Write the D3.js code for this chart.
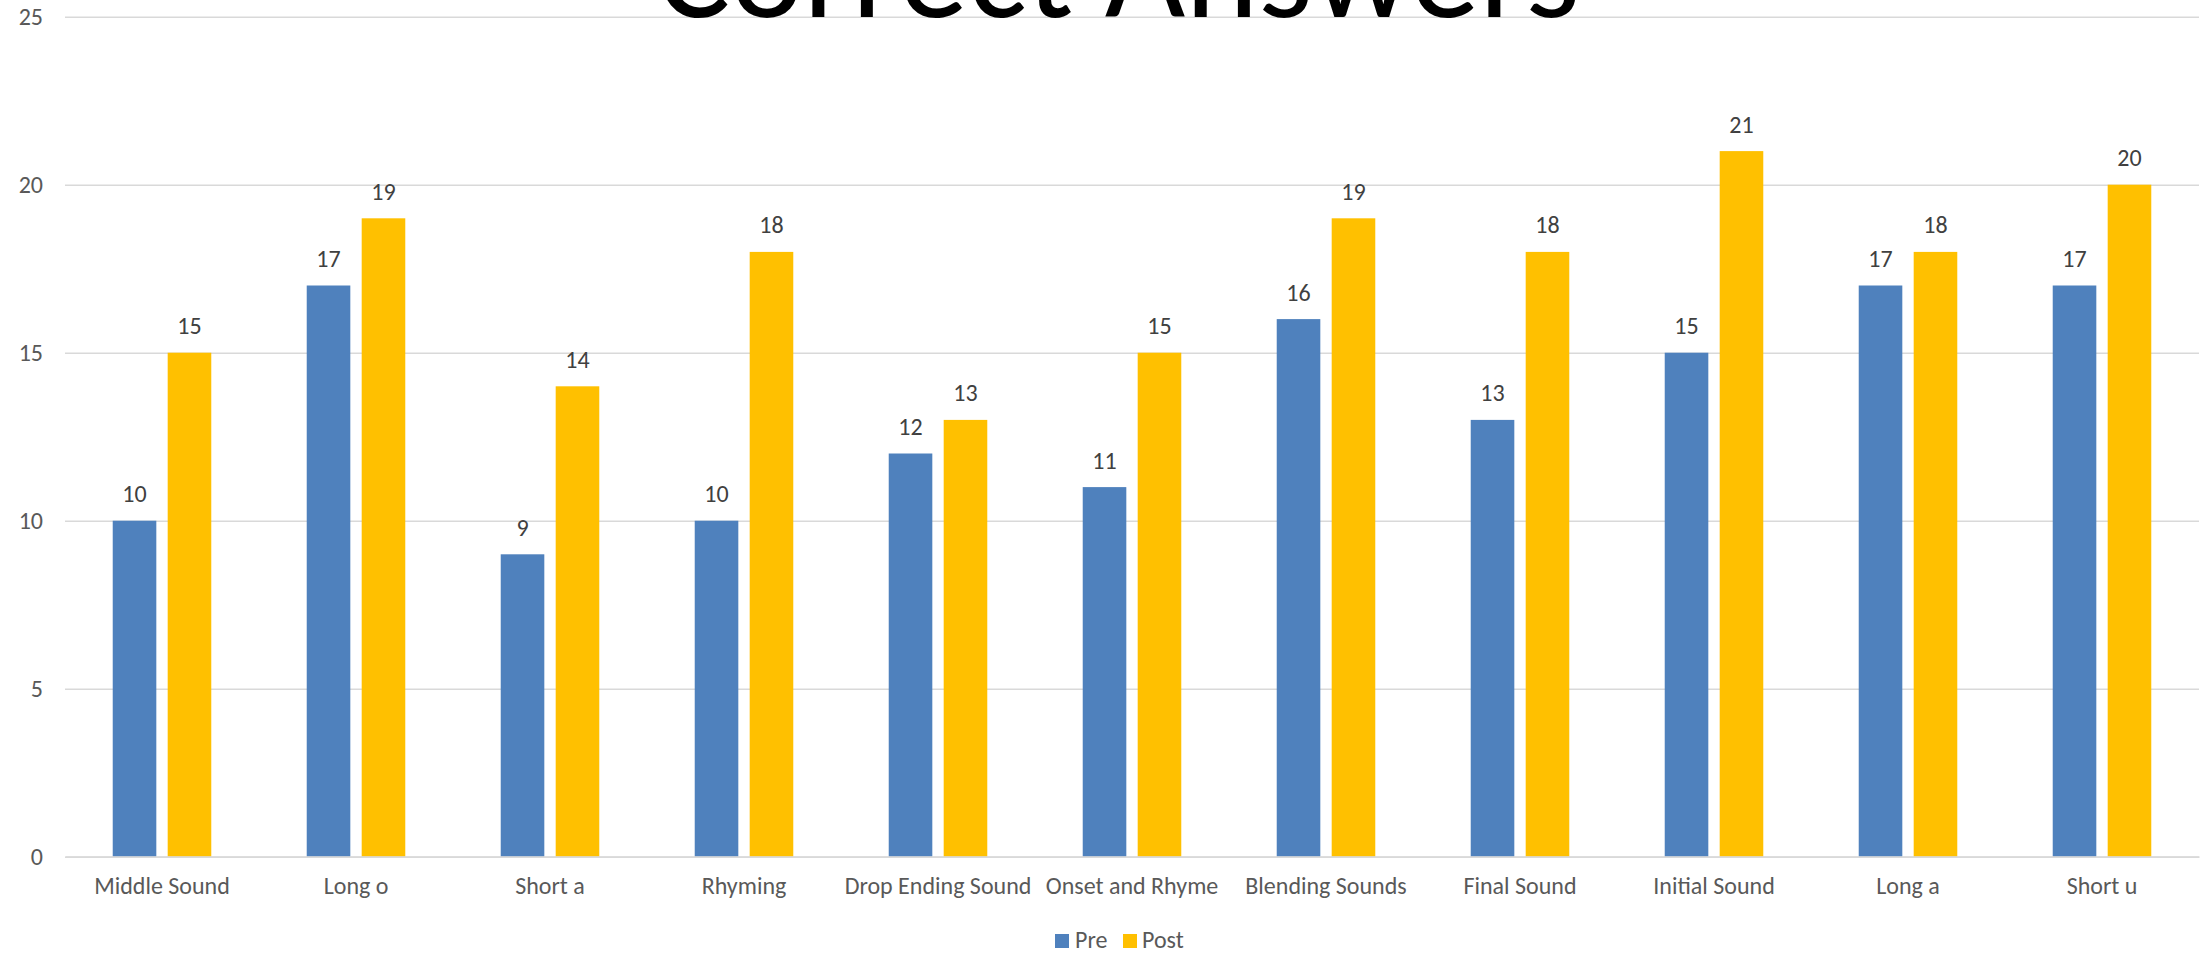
<!DOCTYPE html>
<html>
<head>
<meta charset="utf-8">
<script src="https://cdn.jsdelivr.net/npm/d3@7"></script>
<style>
  html, body { margin: 0; padding: 0; background: #fff; overflow: hidden; }
  svg { display: block; }
  text { font-family: Carlito, Calibri, Lato, "Open Sans", sans-serif; }
</style>
</head>
<body>
<svg id="chart" width="2203" height="953"></svg>
<script>
// Correct answers per skill, before and after
const categories = ["Middle Sound", "Long o", "Short a", "Rhyming", "Drop Ending Sound",
  "Onset and Rhyme", "Blending Sounds", "Final Sound", "Initial Sound", "Long a", "Short u"];
const seriesNames = ["Pre", "Post"];
const preValues  = [10, 17, 9, 10, 12, 11, 16, 13, 15, 17, 17];
const postValues = [15, 19, 14, 18, 13, 15, 19, 18, 21, 18, 20];
const yTicks = [0, 5, 10, 15, 20, 25];
const titleText = "Correct Answers";

const colors = { Pre: "#4F81BD", Post: "#FFC000" };
const labelFont = "24px";

const svg = d3.select("#chart");
const plot = { left: 65, right: 2199, top: 16.7, bottom: 856.7 };

const y = d3.scaleLinear().domain([0, 25]).range([plot.bottom, plot.top]);
const x0 = d3.scaleBand().domain(categories).range([plot.left, plot.right]).padding(0);
const bw = x0.bandwidth();
const x1 = d3.scaleBand().domain(seriesNames)
  .range([bw * 0.246, bw * 0.754]).paddingInner(0.207).paddingOuter(0);

const rows = categories.map((c, i) => ({ category: c, Pre: preValues[i], Post: postValues[i] }));

// horizontal gridlines
const yAxis = d3.axisLeft(y).tickValues(yTicks).tickSize(-(plot.right - plot.left)).tickPadding(22);
const gy = svg.append("g").attr("transform", `translate(${plot.left},0)`).call(yAxis);
gy.select(".domain").remove();
gy.selectAll(".tick line").attr("stroke", "#D9D9D9").attr("stroke-width", 1.6);
gy.selectAll(".tick text").attr("fill", "#595959").style("font-size", labelFont)
  .style("font-family", "Carlito, Calibri, Lato, sans-serif");

// title (sits partly above the top edge)
const title = svg.append("text")
  .attr("x", 1118).attr("y", 17)
  .attr("text-anchor", "middle")
  .attr("fill", "#000")
  .style("font-size", "138px")
  .text(titleText);
const tw = title.node().getComputedTextLength();
title.style("font-size", (138 * 924 / tw) + "px");

// bars
const groups = svg.append("g").selectAll("g").data(rows).join("g")
  .attr("transform", d => `translate(${x0(d.category)},0)`);

groups.selectAll("rect")
  .data(d => seriesNames.map(k => ({ key: k, value: d[k] })))
  .join("rect")
  .attr("x", d => x1(d.key))
  .attr("width", x1.bandwidth())
  .attr("y", d => y(d.value))
  .attr("height", d => y(0) - y(d.value))
  .attr("fill", d => colors[d.key]);

// value labels
groups.selectAll("text.val")
  .data(d => seriesNames.map(k => ({ key: k, value: d[k] })))
  .join("text")
  .attr("class", "val")
  .attr("x", d => x1(d.key) + x1.bandwidth() / 2)
  .attr("y", d => y(d.value) - 18.5)
  .attr("text-anchor", "middle")
  .attr("fill", "#404040")
  .style("font-size", labelFont)
  .text(d => d.value);

// baseline axis line and category labels
const xAxis = d3.axisBottom(x0).tickSize(0).tickPadding(28);
const gx = svg.append("g").attr("transform", `translate(0,${plot.bottom})`).call(xAxis);
gx.select(".domain").attr("stroke", "#D9D9D9").attr("stroke-width", 1.8);
gx.selectAll(".tick text").attr("fill", "#595959").style("font-size", labelFont)
  .style("font-family", "Carlito, Calibri, Lato, sans-serif")
  .attr("dy", "0").attr("y", 37.5);

// legend
const legend = svg.append("g");
const legendItems = [
  { key: "Pre", sx: 1055, tx: 1075 },
  { key: "Post", sx: 1123, tx: 1142 }
];
legendItems.forEach(it => {
  legend.append("rect").attr("x", it.sx).attr("y", 934).attr("width", 14).attr("height", 14)
    .attr("fill", colors[it.key]);
  legend.append("text").attr("x", it.tx).attr("y", 947.5).attr("fill", "#595959")
    .style("font-size", labelFont).text(it.key);
});
</script>
</body>
</html>
